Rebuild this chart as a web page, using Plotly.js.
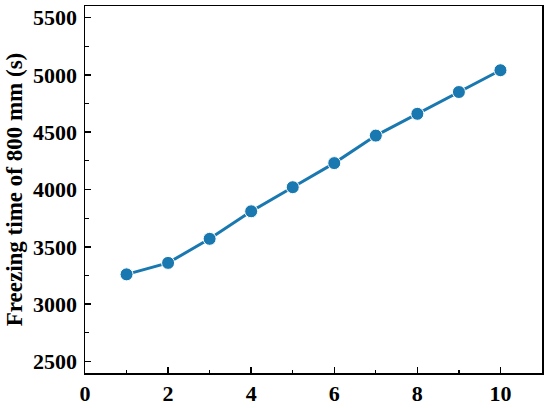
<!DOCTYPE html>
<html>
<head>
<meta charset="utf-8">
<script src="https://cdn.plot.ly/plotly-3.0.1.min.js"></script>
<style>html,body{margin:0;padding:0;background:#fff;}#chart{width:550px;height:408px;}</style>
</head>
<body>
<div id="chart"></div>
<script>
const xValues = [1, 2, 3, 4, 5, 6, 7, 8, 9, 10];
const freezingTime = [3260, 3360, 3570, 3810, 4020, 4230, 4470, 4660, 4850, 5040];
const xTickVals = [0, 2, 4, 6, 8, 10];
const yTickVals = [2500, 3000, 3500, 4000, 4500, 5000, 5500];
const yTitle = 'Freezing time of 800 mm (s)';

const font = {family: '"Liberation Serif", "Times New Roman", serif', size: 22, color: '#000'};

const trace = {
  x: xValues,
  y: freezingTime,
  type: 'scatter',
  mode: 'lines+markers',
  line: {color: '#1a78b0', width: 3},
  marker: {color: '#1a78b0', size: 13, line: {color: '#fff', width: 1}},
  hoverinfo: 'skip'
};

const axisCommon = {
  showgrid: false,
  zeroline: false,
  showline: true,
  linecolor: '#000',
  linewidth: 1.5,
  mirror: true,
  ticks: 'inside',
  ticklen: 6,
  tickwidth: 1.5,
  tickcolor: '#000',
  tickfont: {family: font.family, size: 22, color: '#000', weight: 'bold'},
  minor: {ticks: 'inside', ticklen: 3.5, tickwidth: 1.2, tickcolor: '#000', showgrid: false}
};

const layout = {
  width: 550,
  height: 408,
  margin: {l: 85, r: 8, t: 6, b: 35},
  paper_bgcolor: '#fff',
  plot_bgcolor: '#fff',
  showlegend: false,
  font: font,
  xaxis: Object.assign({}, axisCommon, {
    range: [0, 11],
    tickmode: 'array',
    tickvals: xTickVals,
    ticktext: xTickVals.map(String),
    minor: Object.assign({}, axisCommon.minor, {tickmode: 'array', tickvals: [1, 3, 5, 7, 9]}),
    ticklabelstandoff: 0
  }),
  yaxis: Object.assign({}, axisCommon, {
    range: [2400, 5600],
    tickmode: 'array',
    tickvals: yTickVals,
    ticktext: yTickVals.map(String),
    minor: Object.assign({}, axisCommon.minor, {tickmode: 'array', tickvals: [2750, 3250, 3750, 4250, 4750, 5250]}),
    ticklabelstandoff: 2,
    title: {text: '<b>' + yTitle + '</b>', font: {family: font.family, size: 23, color: '#000'}, standoff: 4}
  })
};

Plotly.newPlot('chart', [trace], layout, {displayModeBar: false, staticPlot: true});
</script>
</body>
</html>
